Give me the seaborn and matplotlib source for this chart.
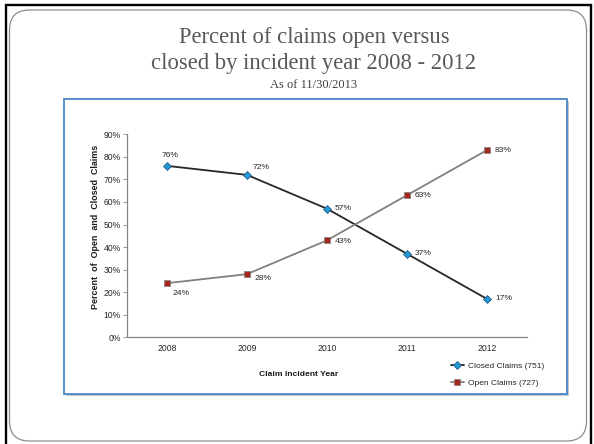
import matplotlib
matplotlib.use("Agg")
import matplotlib.pyplot as plt
import seaborn as sns
import pandas as pd
import numpy as np
from matplotlib.patches import FancyBboxPatch, Rectangle

# ---- data ----
years = ["2008", "2009", "2010", "2011", "2012"]
closed_pct = [76, 72, 57, 37, 17]
open_pct = [24, 28, 43, 63, 83]
closed_label = "Closed Claims (751)"
open_label = "Open Claims (727)"
y_ticks = [0, 10, 20, 30, 40, 50, 60, 70, 80, 90]
y_tick_labels = [f"{v}%" for v in y_ticks]
title_lines = ["Percent of claims open versus", "closed by incident year 2008 - 2012"]
subtitle = "As of 11/30/2013"
x_label = "Claim Incident Year"
y_label = "Percent  of  Open  and  Closed  Claims"

sns.set_style("white")
plt.rcParams['font.family'] = ['Liberation Sans', 'DejaVu Sans']

W, H = 594, 444
fig = plt.figure(figsize=(W / 100, H / 100), dpi=100)
fig.patch.set_facecolor("white")

# ---- slide background (pixel coordinates) ----
bg = fig.add_axes([0, 0, 1, 1], zorder=0)
bg.set_xlim(0, W)
bg.set_ylim(H, 0)
bg.axis("off")
bg.plot([6, 6], [4.5, H + 2], color="black", lw=1.7, solid_capstyle="butt")
bg.plot([4.5, 592], [5.5, 5.5], color="black", lw=1.7, solid_capstyle="butt")
bg.plot([591, 591], [4.5, H + 2], color="black", lw=1.7, solid_capstyle="butt")
bg.add_patch(FancyBboxPatch((9.5, 10), 577, 431,
                            boxstyle="round,pad=0,rounding_size=20",
                            facecolor="white", edgecolor="#8c8c8c", lw=0.9))
# chart box with shadow
bg.add_patch(Rectangle((66, 101), 503, 295, facecolor="#c8c8c8", edgecolor="none"))
bg.add_patch(Rectangle((64, 99), 503, 295, facecolor="white", edgecolor="#4a86c8", lw=1.3))

# titles
cx = 314
serif = ["Liberation Serif", "DejaVu Serif"]
bg.text(cx, 37, title_lines[0], ha="center", va="center", fontsize=16.3,
        family=serif, color="#595959")
bg.text(cx, 63, title_lines[1], ha="center", va="center", fontsize=16.3,
        family=serif, color="#595959")
bg.text(cx, 85, subtitle, ha="center", va="center", fontsize=9,
        family=serif, color="#404040")

# ---- main chart ----
y0, y90 = 337.3, 134.3
ax = fig.add_axes([127 / W, (H - y0) / H, 400 / W, (y0 - y90) / H], zorder=2)
ax.set_facecolor("none")

pos = np.arange(len(years))
df_closed = pd.DataFrame({"pos": pos, "pct": closed_pct})
df_open = pd.DataFrame({"pos": pos, "pct": open_pct})

sns.lineplot(data=df_closed, x="pos", y="pct", ax=ax, color="#262626", lw=1.3,
             marker="D", markersize=3.6, markerfacecolor="#1e9bd7",
             markeredgecolor="#1f4e79", markeredgewidth=0.5, label=closed_label)
sns.lineplot(data=df_open, x="pos", y="pct", ax=ax, color="#808080", lw=1.3,
             marker="s", markersize=4.5, markerfacecolor="#a0281e",
             markeredgecolor="#808080", markeredgewidth=0.5, label=open_label)

ax.set_xlim(-0.5, len(years) - 0.5)
ax.set_ylim(0, 90)
ax.set_yticks(y_ticks)
ax.set_yticklabels(y_tick_labels)
ax.set_xticks(pos)
ax.set_xticklabels(years)
ax.set_xticks(np.arange(len(years) + 1) - 0.5, minor=True)
ax.tick_params(axis="x", which="major", length=0, pad=4.5, labelsize=6.2, labelcolor="#262626")
ax.tick_params(axis="x", which="minor", length=3, width=0.6, color="#868686", direction="out")
ax.tick_params(axis="y", length=3, width=0.6, color="#868686", direction="out",
               pad=1.5, labelsize=6.2, labelcolor="#262626", left=True)
for s in ["top", "right"]:
    ax.spines[s].set_visible(False)
for s in ["left", "bottom"]:
    ax.spines[s].set_color("#868686")
    ax.spines[s].set_linewidth(0.9)

ax.set_xlabel(x_label, fontsize=6.1, fontweight="bold", color="#1a1a1a")
ax.set_ylabel(y_label, fontsize=6.4, fontweight="bold", color="#1a1a1a")
ax.xaxis.set_label_coords(0.43, -0.166)
ax.yaxis.set_label_coords(-0.0675, 0.546)

# data labels (offsets in pixels)
closed_offsets = [(3, 10, "center"), (6, 7, "left"), (8, 0, "left"), (8, 0, "left"), (8, 0, "left")]
open_offsets = [(6, -10, "left"), (8, -4, "left"), (8, -1, "left"), (8, 0, "left"), (8, 0, "left")]
for i, v in enumerate(closed_pct):
    dx, dy, ha = closed_offsets[i]
    ax.annotate(f"{v}%", (pos[i], v), xytext=(dx, dy), textcoords="offset pixels",
                ha=ha, va="center", fontsize=6.1, color="#262626")
for i, v in enumerate(open_pct):
    dx, dy, ha = open_offsets[i]
    ax.annotate(f"{v}%", (pos[i], v), xytext=(dx, dy), textcoords="offset pixels",
                ha=ha, va="center", fontsize=6.1, color="#262626")

ax.legend(loc="upper left", bbox_to_anchor=(451 / W, 1 - 362 / H),
          bbox_transform=fig.transFigure, frameon=False, fontsize=6.0,
          handlelength=1.5, handletextpad=0.6, labelspacing=1.1,
          borderpad=0, borderaxespad=0, labelcolor="#262626")

fig.savefig("out.png", dpi=100, facecolor="white")
